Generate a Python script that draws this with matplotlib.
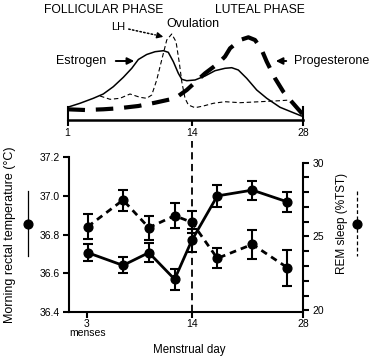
import numpy as np
import matplotlib
matplotlib.use("Agg")
import matplotlib.pyplot as plt
from matplotlib.lines import Line2D

plt.rcParams['font.family'] = ['Liberation Sans', 'DejaVu Sans']

# top panel: hormone curves (relative level, 0 = baseline)
estrogen_day = [1.0, 2.3, 3.7, 4.74, 5.79, 6.84, 7.72, 8.41, 9.28, 10.16, 11.03, 11.54, 12.07,
                12.59, 12.95, 13.47, 14.4, 15.66, 16.91, 18.17, 19.01, 19.84, 20.89, 22.15,
                23.41, 25.08, 26.75, 28.0]
estrogen_lvl = [12.7, 16.7, 21.7, 26, 33.3, 42.7, 51.7, 60.5, 65.5, 68.3, 69.3, 67.7, 58.3,
                46.7, 40.7, 39.3, 40, 44, 49.3, 51.7, 52.3, 50, 41.7, 30,
                21.7, 12.7, 7.3, 3.3]

lh_day = [4.4, 5.45, 6.49, 7.54, 8.58, 9.28, 9.81, 10.33, 10.85, 11.38, 11.9, 12.35, 12.7,
          12.95, 13.29, 13.64, 14.4, 15.45, 16.7, 18.17, 20.06, 22.57, 25.08, 26.33]
lh_lvl = [24, 20.7, 21.7, 26, 22.7, 21.7, 25, 40, 60, 80, 86, 78.3, 56.7,
          38.3, 21.7, 15, 12.3, 14, 16.7, 18.3, 17.3, 18.3, 19.3, 20]

prog_day = [1.0, 2.83, 4.74, 6.31, 8.41, 10.16, 12.25, 13.47, 15.66, 17.33, 18.17, 18.8,
            20.06, 21.1, 21.94, 22.78, 23.41, 24.45, 25.49, 26.54, 28.0]
prog_lvl = [10.7, 10, 10.7, 11.7, 14, 17.3, 21.7, 30, 46.7, 56.7, 63.5, 71.7,
            80, 82.7, 80, 70, 58.3, 41.7, 28.3, 18.3, 5]

# bottom panel
days = [3.1, 6.8, 9.5, 12.2, 14.0, 17.2, 21.6, 26.0]
temp = [36.706, 36.640, 36.706, 36.568, 36.770, 37.000, 37.030, 36.969]
temp_err = [0.043, 0.042, 0.049, 0.055, 0.061, 0.058, 0.049, 0.050]
rem = [25.66, 27.47, 25.60, 26.41, 25.96, 23.52, 24.47, 22.89]
rem_err = [0.84, 0.71, 0.82, 0.86, 0.75, 0.68, 0.99, 1.21]


def fwd(d):
    d = np.asarray(d, float)
    return np.where(d <= 14, (d - 1) * 9.56, 124.3 + (d - 14) * 7.96)


def inv(p):
    p = np.asarray(p, float)
    return np.where(p <= 124.3, 1 + p / 9.56, 14 + (p - 124.3) / 7.96)


W, H = 373, 356


def fx(x):
    return x / W


def fy(y):
    return 1 - y / H


fig = plt.figure(figsize=(3.73, 3.56), dpi=100)

# ---- top panel
axt = fig.add_axes([fx(67.5), fy(120), (303.3 - 67.5) / W, 100 / H])
axt.set_xscale('function', functions=(fwd, inv))
axt.plot(estrogen_day, estrogen_lvl, color='k', lw=1.1)
axt.plot(lh_day, lh_lvl, color='k', lw=0.8, dashes=(4, 2.5))
axt.plot(prog_day, prog_lvl, color='k', lw=3, dashes=(4.2, 2.6))
axt.set_xlim(1, 28)
axt.set_ylim(0, 100)
axt.set_xticks([1, 14, 28])
axt.set_xticklabels(['1', '14', '28'], fontsize=7.5)
axt.set_yticks([])
axt.tick_params(axis='x', direction='out', length=4, width=1.5, pad=1.5)
axt.spines['top'].set_visible(False)
axt.spines['bottom'].set_linewidth(1.8)
for s in ['left', 'right']:
    axt.spines[s].set_linewidth(1.5)
    axt.spines[s].set_bounds(0, 13)
axt.patch.set_alpha(0)

fig.text(fx(104), fy(10), 'FOLLICULAR PHASE', fontsize=8.7, ha='center', va='center')
fig.text(fx(260), fy(10), 'LUTEAL PHASE', fontsize=8.7, ha='center', va='center')
fig.text(fx(118), fy(27), 'LH', fontsize=8, ha='center', va='center')
fig.text(fx(193), fy(24), 'Ovulation', fontsize=9, ha='center', va='center')
fig.text(fx(81), fy(61), 'Estrogen', fontsize=9, ha='center', va='center')
fig.text(fx(332), fy(61), 'Progesterone', fontsize=9, ha='center', va='center')

fig_px = 'figure pixels'
axt.annotate('', xy=(137, H - 61), xytext=(113, H - 61), xycoords=fig_px,
             textcoords=fig_px,
             arrowprops=dict(arrowstyle='-|>', lw=1.4, color='k', mutation_scale=10))
axt.annotate('', xy=(273, H - 61), xytext=(289, H - 61), xycoords=fig_px,
             textcoords=fig_px,
             arrowprops=dict(arrowstyle='-|>', lw=1.4, color='k', mutation_scale=10))
axt.annotate('', xy=(158, H - 35.5), xytext=(126, H - 28.5), xycoords=fig_px,
             textcoords=fig_px,
             arrowprops=dict(arrowstyle='-', lw=1.1, color='k', linestyle=(0, (1, 1.5))))
axt.annotate('', xy=(166, H - 37.5), xytext=(157, H - 35.3), xycoords=fig_px,
             textcoords=fig_px,
             arrowprops=dict(arrowstyle='-|>', lw=1.0, color='k', mutation_scale=9))

# ---- bottom panel
ax = fig.add_axes([fx(69), fy(311.7), (303.3 - 69) / W, 154.4 / H])
ax.set_xscale('function', functions=(fwd, inv))
ax2 = ax.twinx()

ax.errorbar(days, temp, yerr=temp_err, fmt='-o', color='k', lw=2, ms=6.3,
            elinewidth=1.5, capsize=3.5, capthick=1.5, zorder=3)
ax2.errorbar(days, rem, yerr=rem_err, fmt='o', color='k', ms=6.3,
             elinewidth=1.5, capsize=3.5, capthick=1.5, zorder=3)
ax2.plot(days, rem, color='k', lw=2, dashes=(2.4, 1.8))

ax.axvline(14, ymin=0, ymax=1.107, color='k', lw=1.3, dashes=(4, 2.5), clip_on=False)

ax.set_xlim(1.15, 28)
ax.set_ylim(36.4, 37.2)
ax2.set_ylim(19.905, 30.366)
ax.set_xticks([3, 14, 28])
ax.set_xticklabels(['3', '14', '28'], fontsize=7.5)
ax.set_yticks([36.4, 36.6, 36.8, 37.0, 37.2])
ax.set_yticklabels(['36.4', '36.6', '36.8', '37.0', '37.2'], fontsize=7.5)
ax2.set_yticks([20, 25, 30])
ax2.set_yticks(np.arange(21, 30), minor=True)
ax2.set_yticklabels(['20', '25', '30'], fontsize=7.5)

for a in (ax, ax2):
    a.tick_params(which='both', direction='out', length=4, width=1.5, pad=2.5)
    a.spines['top'].set_visible(False)
ax.spines['right'].set_visible(False)
ax2.spines['left'].set_visible(False)
ax2.spines['bottom'].set_visible(False)
ax.spines['left'].set_linewidth(1.5)
ax.spines['bottom'].set_linewidth(1.5)
ax2.spines['right'].set_linewidth(1.5)
ax2.spines['right'].set_bounds(20, 30)
ax.tick_params(axis='x', pad=1.5)

ax.set_ylabel('Morning rectal temperature (\u00b0C)', fontsize=9, va='center')
ax.yaxis.set_label_coords(-0.252, 0.497)
ax2.set_ylabel('REM sleep (%TST)', fontsize=8.5, rotation=90, va='center')
ax2.yaxis.set_label_coords(1.165, 0.574)
ax.set_xlabel('Menstrual day', fontsize=8.3, va='center')
ax.xaxis.set_label_coords(0.512, -0.248)
ax.text(0.08, -0.138, 'menses', transform=ax.transAxes, fontsize=7.5,
        ha='center', va='center')

# side key symbols
fig.add_artist(Line2D([fx(28), fx(28)], [fy(191), fy(256)], color='k', lw=0.9))
fig.add_artist(Line2D([fx(28)], [fy(224)], color='k', marker='o', ms=6.3, ls='none'))
fig.add_artist(Line2D([fx(357), fx(357)], [fy(191), fy(256)], color='k', lw=0.9,
                      dashes=(3, 2)))
fig.add_artist(Line2D([fx(357)], [fy(224)], color='k', marker='o', ms=6.3, ls='none'))

fig.savefig('out.png', dpi=100)
